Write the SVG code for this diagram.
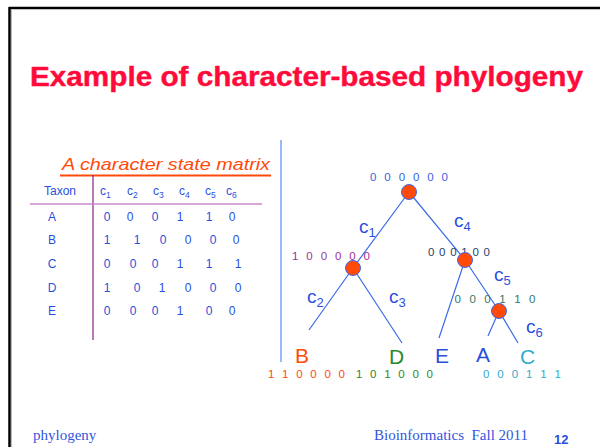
<svg xmlns="http://www.w3.org/2000/svg" width="600" height="447" viewBox="0 0 600 447">
<style>
.sans{font-family:"Liberation Sans",Arial,sans-serif}
.mat{font-family:"Liberation Sans",Arial,sans-serif;font-size:12px;fill:#2a4fe0}
.seq{font-family:"Liberation Sans",Arial,sans-serif;font-size:11.5px}
.br{stroke:#3a6ae8;stroke-width:1.2;fill:none}
.nd{fill:#ff4a0a;stroke:#3a6ae8;stroke-width:1}
.cl{font-family:"Liberation Sans",Arial,sans-serif;font-size:19px;fill:#2a4fe0}
.sub{font-size:13px}
.leaf{font-family:"Liberation Sans",Arial,sans-serif;font-size:21px}
</style>
<rect width="600" height="447" fill="#ffffff"/>
<g id="frame">
<line x1="9" y1="8" x2="600" y2="8" stroke="#000" stroke-width="2.5"/>
<line x1="9.5" y1="7" x2="9.5" y2="447" stroke="#000" stroke-width="2.5"/>
<line x1="11.5" y1="9" x2="11.5" y2="447" stroke="#bbb" stroke-width="1"/>
</g>
<text class="sans" x="30" y="86" font-size="27" font-weight="bold" fill="#ff0a3a" stroke="#ff0a3a" stroke-width="0.4" textLength="553" lengthAdjust="spacingAndGlyphs">Example of character-based phylogeny</text>
<g id="matrix">
<text class="sans" x="62" y="170" font-size="17" font-style="italic" fill="#ff4a0a" textLength="208" lengthAdjust="spacingAndGlyphs">A character state matrix</text>
<line x1="60" y1="175.5" x2="271" y2="175.5" stroke="#ff4a0a" stroke-width="2"/>
<line x1="93" y1="175" x2="93" y2="340" stroke="#882288" stroke-width="1.2"/>
<line x1="30" y1="204" x2="262" y2="204" stroke="#cc88cc" stroke-width="1.5"/>
<text class="mat" x="44" y="195" font-size="11.5">Taxon</text>
<g class="mat" font-size="11">
<text x="100" y="195">c<tspan font-size="8.5" dy="3">1</tspan></text>
<text x="127" y="195">c<tspan font-size="8.5" dy="3">2</tspan></text>
<text x="153" y="195">c<tspan font-size="8.5" dy="3">3</tspan></text>
<text x="179" y="195">c<tspan font-size="8.5" dy="3">4</tspan></text>
<text x="205" y="195">c<tspan font-size="8.5" dy="3">5</tspan></text>
<text x="226" y="195">c<tspan font-size="8.5" dy="3">6</tspan></text>
</g>
<g class="mat" text-anchor="middle">
<text x="52" y="221">A</text><text x="52" y="244">B</text><text x="52" y="268">C</text><text x="52" y="292">D</text><text x="52" y="315">E</text>
<text x="107" y="221">0</text><text x="130" y="221">0</text><text x="155" y="221">0</text><text x="180" y="221">1</text><text x="209" y="221">1</text><text x="232" y="221">0</text>
<text x="107" y="244">1</text><text x="137" y="244">1</text><text x="163" y="244">0</text><text x="188" y="244">0</text><text x="213" y="244">0</text><text x="236" y="244">0</text>
<text x="107" y="268">0</text><text x="133" y="268">0</text><text x="155" y="268">0</text><text x="180" y="268">1</text><text x="209" y="268">1</text><text x="238" y="268">1</text>
<text x="107" y="292">1</text><text x="137" y="292">0</text><text x="162" y="292">1</text><text x="188" y="292">0</text><text x="213" y="292">0</text><text x="238" y="292">0</text>
<text x="107" y="315">0</text><text x="133" y="315">0</text><text x="155" y="315">0</text><text x="180" y="315">1</text><text x="209" y="315">0</text><text x="232" y="315">0</text>
</g>
</g>
<line x1="281" y1="140" x2="281" y2="362" stroke="#7aa2f0" stroke-width="1.5"/>
<g id="connectors">
<line class="br" x1="409" y1="192" x2="353" y2="268"/>
<line class="br" x1="409" y1="192" x2="465" y2="260"/>
<line class="br" x1="353" y1="268" x2="309" y2="330"/>
<line class="br" x1="353" y1="268" x2="402" y2="343"/>
<line class="br" x1="465" y1="260" x2="439" y2="338"/>
<line class="br" x1="465" y1="260" x2="499" y2="311"/>
<line class="br" x1="499" y1="311" x2="488" y2="336"/>
<line class="br" x1="499" y1="311" x2="518" y2="343"/>
</g>
<g id="labels">
<text class="seq" x="409" y="181" text-anchor="middle" fill="#3a5fe0" textLength="78">0 0 0 0 0 0</text>
<text class="seq" x="331" y="260" text-anchor="middle" fill="#993399" textLength="78">1 0 0 0 0 0</text>
<text class="seq" x="459" y="256" text-anchor="middle" fill="#1f3f66" textLength="62">0 0 0 1 0 0</text>
<text class="seq" x="495" y="303" text-anchor="middle" fill="#2e7a6a" textLength="81">0 0 0 1 1 0</text>
<text class="seq" x="268" y="378" fill="#ff4a0a" textLength="77">1 1 0 0 0 0</text>
<text class="seq" x="356" y="378" fill="#2a8a2a" textLength="77">1 0 1 0 0 0</text>
<text class="seq" x="483" y="378" fill="#33aacc" textLength="78">0 0 0 1 1 1</text>
<text class="cl" x="359" y="233">c<tspan class="sub" dy="4">1</tspan></text>
<text class="cl" x="454" y="227">c<tspan class="sub" dy="4">4</tspan></text>
<text class="cl" x="494" y="281">c<tspan class="sub" dy="4">5</tspan></text>
<text class="cl" x="526" y="333">c<tspan class="sub" dy="4">6</tspan></text>
<text class="cl" x="307" y="303">c<tspan class="sub" dy="4">2</tspan></text>
<text class="cl" x="389" y="303">c<tspan class="sub" dy="4">3</tspan></text>
<text class="leaf" x="295" y="363" fill="#ff4a0a">B</text>
<text class="leaf" x="389" y="364" fill="#2a8a2a">D</text>
<text class="leaf" x="435" y="363" fill="#2a4fe0">E</text>
<text class="leaf" x="476" y="362" fill="#2a4fe0">A</text>
<text class="leaf" x="520" y="364" fill="#33aacc">C</text>
</g>
<g id="nodes">
<circle id="root" class="nd" cx="409" cy="192" r="7.5"/>
<circle id="n1" class="nd" cx="353" cy="268" r="7.5"/>
<circle id="n2" class="nd" cx="465" cy="260" r="7.5"/>
<circle id="n3" class="nd" cx="499" cy="311" r="7.5"/>
</g>
<g id="footer">
<text x="33" y="440" font-family="'Liberation Serif','Times New Roman',serif" font-size="15" fill="#3355dd">phylogeny</text>
<text x="374" y="440" font-family="'Liberation Serif','Times New Roman',serif" font-size="15" fill="#3355dd" xml:space="preserve">Bioinformatics  Fall 2011</text>
<text class="sans" x="554" y="444" font-size="13" font-weight="bold" fill="#2a4fe0">12</text>
</g>
</svg>
